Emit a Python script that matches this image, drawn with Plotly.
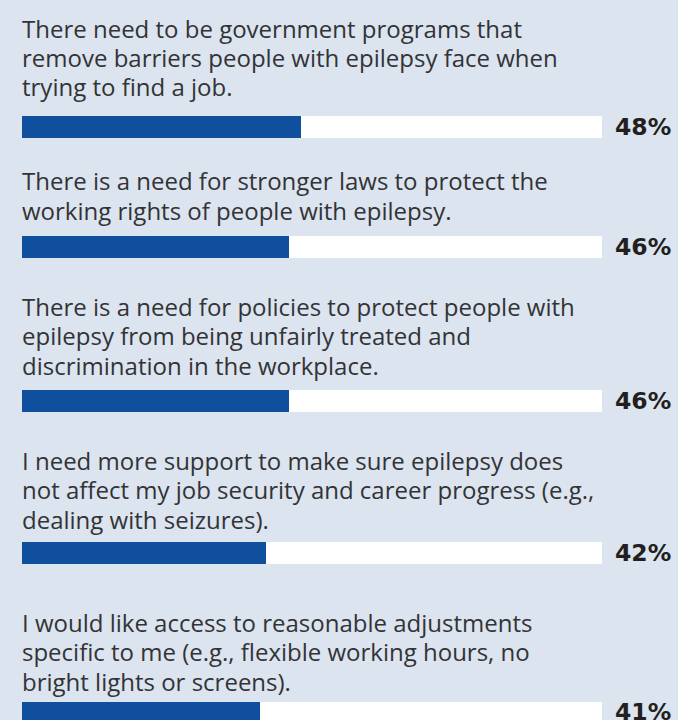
import plotly.graph_objects as go

# Survey statements (one list entry per wrapped line) and the share agreeing
statements = [
    ["There need to be government programs that",
     "remove barriers people with epilepsy face when",
     "trying to find a job."],
    ["There is a need for stronger laws to protect the",
     "working rights of people with epilepsy."],
    ["There is a need for policies to protect people with",
     "epilepsy from being unfairly treated and",
     "discrimination in the workplace."],
    ["I need more support to make sure epilepsy does",
     "not affect my job security and career progress (e.g.,",
     "dealing with seizures)."],
    ["I would like access to reasonable adjustments",
     "specific to me (e.g., flexible working hours, no",
     "bright lights or screens)."],
]
shares = [48, 46, 46, 42, 41]
share_labels = ["48%", "46%", "46%", "42%", "41%"]

# Layout: vertical centre of each bar row (pixel units on a reversed axis)
row_centers = [126.7, 246.9, 400.9, 552.9, 712.4]
first_baseline_offset = [-90.0, -57.6, -85.9, -83.9, -81.4]
line_pitch = 29.4
bar_thickness = 21.6

W, H = 678, 720
track_left_px, track_right_px = 22.0, 602.3
px_per_unit = (track_right_px - track_left_px) / 100.0
x_min = -track_left_px / px_per_unit
x_max = (W - track_left_px) / px_per_unit

BG = "#dbe4ef"
BLUE = "#0f4f9e"
TEXT = "#333336"
LABEL = "#231f20"
TEXT_SIZE = 24
LABEL_SIZE = 23.5

fig = go.Figure()

# white background tracks (full 100%)
fig.add_trace(go.Bar(
    x=[100] * len(shares), y=row_centers, orientation="h",
    width=bar_thickness, marker=dict(color="white", line=dict(width=0)),
    hoverinfo="skip", showlegend=False,
))
# filled share
fig.add_trace(go.Bar(
    x=shares, y=row_centers, orientation="h",
    width=bar_thickness, marker=dict(color=BLUE, line=dict(width=0)),
    showlegend=False,
))

# statement text, one annotation per wrapped line for tight line spacing
annotations = []
for lines, yc, off in zip(statements, row_centers, first_baseline_offset):
    for i, line in enumerate(lines):
        baseline = yc + off + i * line_pitch
        annotations.append(dict(
            x=-0.35, y=baseline - 0.36 * TEXT_SIZE, xref="x", yref="y",
            text=line, showarrow=False, xanchor="left", yanchor="middle",
            font=dict(family="Open Sans", size=TEXT_SIZE, color=TEXT),
        ))

# percentage labels to the right of each track
for lab, yc in zip(share_labels, row_centers):
    annotations.append(dict(
        x=(673 - track_left_px) / px_per_unit, y=yc, xref="x", yref="y",
        text="<b>" + lab + "</b>", showarrow=False, xanchor="right", yanchor="middle",
        font=dict(family="DejaVu Sans", size=LABEL_SIZE, color=LABEL),
    ))

fig.update_layout(
    width=W, height=H, margin=dict(l=0, r=0, t=0, b=0),
    paper_bgcolor=BG, plot_bgcolor=BG,
    barmode="overlay", bargap=0,
    annotations=annotations,
    xaxis=dict(range=[x_min, x_max], visible=False, fixedrange=True),
    yaxis=dict(range=[H, 0], visible=False, fixedrange=True),
)

fig.write_html("out.html")
